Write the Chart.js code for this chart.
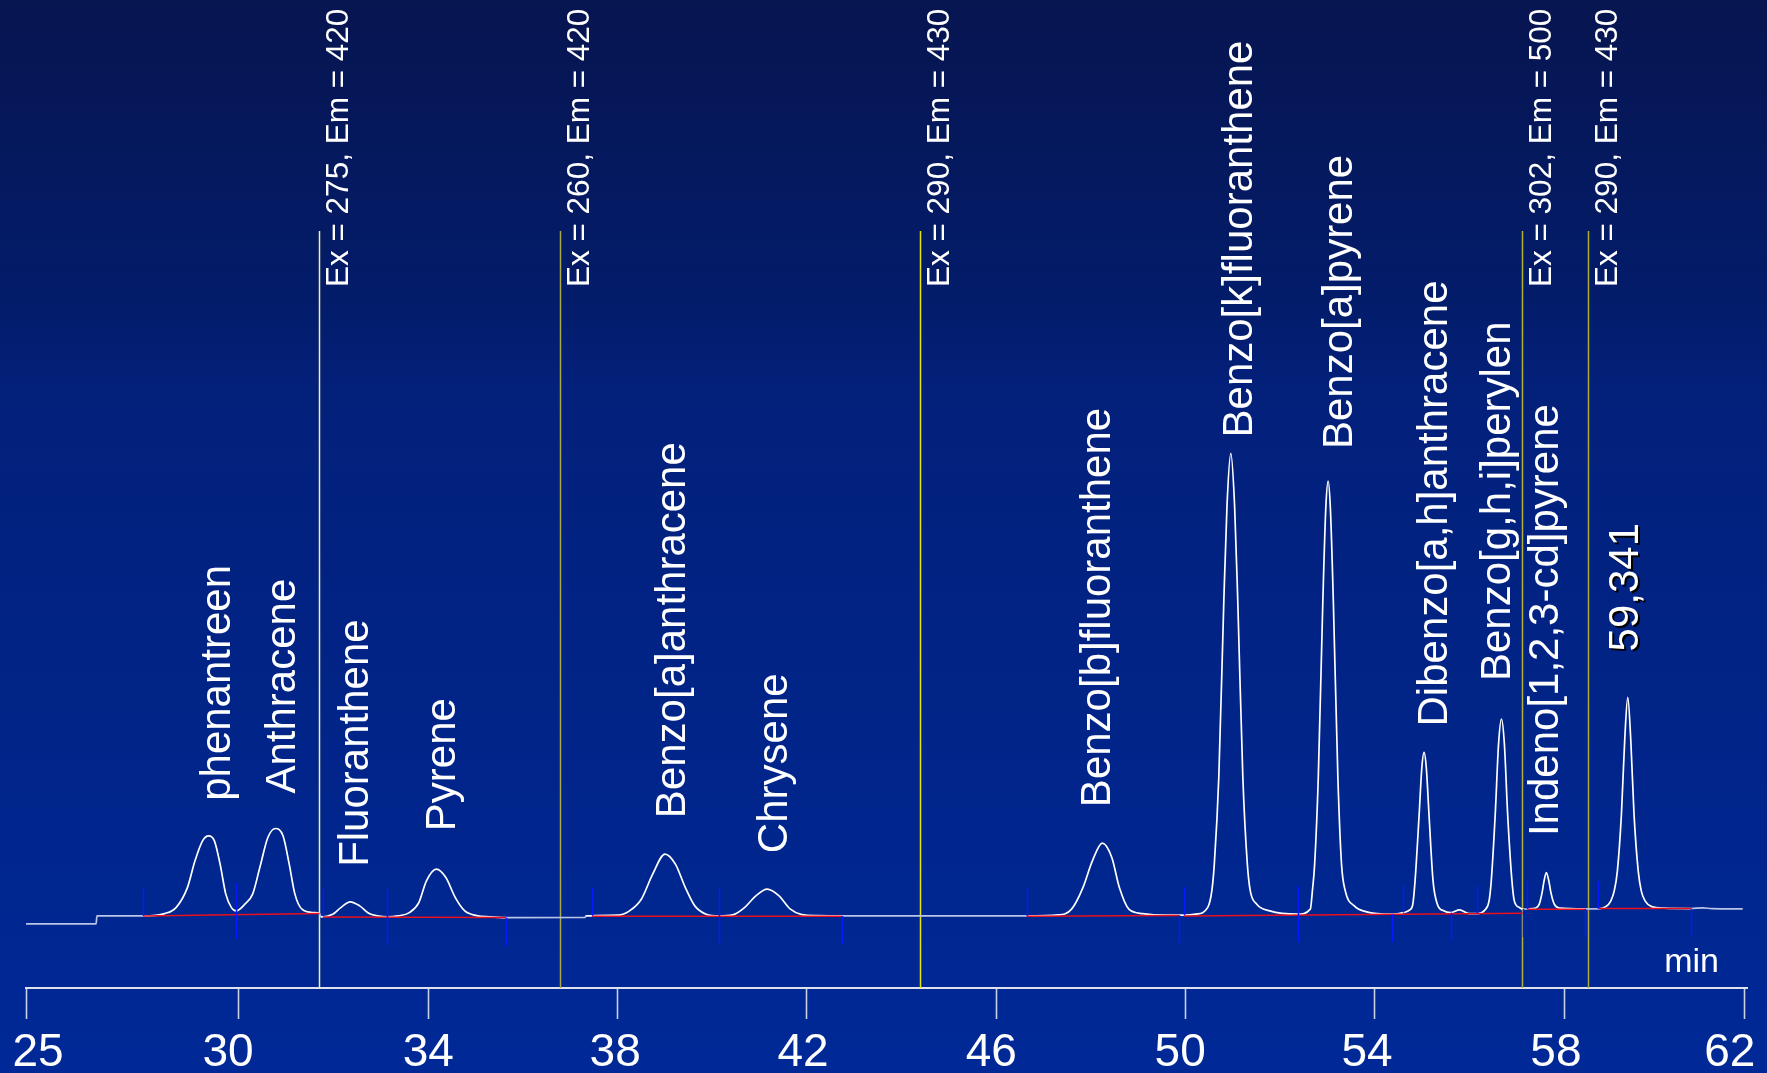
<!DOCTYPE html>
<html>
<head>
<meta charset="utf-8">
<title>HPLC-FLD chromatogram – PAH</title>
<script src="https://cdn.jsdelivr.net/npm/chart.js@4/dist/chart.umd.min.js"></script>
<style>
  html, body { margin: 0; padding: 0; background: #03206f; overflow: hidden; }
  #wrap { position: relative; width: 1767px; height: 1073px; }
</style>
</head>
<body>
<div id="wrap"><canvas id="chrom" width="1767" height="1073"></canvas></div>
<script>
// Fluorescence detector trace: retention time (min) and signal (LU)
const traceTime = [
  25.50, 26.98, 27.00, 27.98, 28.43, 28.67, 28.91, 29.07, 29.23, 29.36, 29.48, 29.60, 29.72, 29.84, 29.94,
  30.13, 30.29, 30.44, 30.61, 30.77, 30.93, 31.06, 31.18, 31.33, 31.58, 31.70, 31.73, 31.98, 32.15, 32.35,
  32.55, 32.75, 32.96, 33.13, 33.36, 33.60, 33.80, 33.96, 34.17, 34.37, 34.57, 34.77, 35.02, 35.30, 35.64,
  37.31, 37.33, 38.01, 38.25, 38.50, 38.74, 39.00, 39.22, 39.43, 39.63, 39.87, 40.14, 40.43, 40.68, 40.92,
  41.16, 41.41, 41.65, 41.89, 42.22, 42.74, 46.64, 47.31, 47.59, 47.83, 48.03, 48.24, 48.44, 48.60, 48.80,
  49.09, 49.57, 49.96, 50.215, 50.464, 50.553, 50.606, 50.701, 50.806, 50.874, 50.954, 51.034, 51.102, 51.208,
  51.303, 51.366, 51.503, 51.778, 52.369, 52.634, 52.678, 52.726, 52.803, 52.898, 52.961, 53.010, 53.058,
  53.121, 53.216, 53.293, 53.373, 53.563, 53.806, 54.372, 54.598, 54.735, 54.799, 54.847, 54.934, 54.989,
  55.037, 55.086, 55.141, 55.227, 55.316, 55.453, 55.601, 55.787, 55.988, 56.151, 56.341, 56.410, 56.457,
  56.541, 56.611, 56.672, 56.734, 56.803, 56.894, 56.945, 57.055, 57.122, 57.241, 57.397, 57.471, 57.534,
  57.566, 57.621, 57.680, 57.714, 57.788, 57.904, 58.438, 58.713, 58.876, 58.981, 59.055, 59.121, 59.207,
  59.277, 59.341, 59.404, 59.473, 59.562, 59.626, 59.710, 59.847, 60.111, 60.677, 60.920, 61.115, 61.770
];
const traceSignal = [
  -1.93, -1.93, -0.20, -0.20, 0.30, 1.60, 5.93, 11.72, 16.05, 17.13, 16.05, 11.07, 4.57, 1.60, 0.89,
  2.40, 4.57, 10.27, 16.76, 18.71, 17.13, 11.07, 4.57, 1.26, 0.52, 0.30, -0.41, 0.17, 1.60, 2.84,
  1.97, 0.30, -0.26, -0.41, -0.20, 0.52, 2.69, 7.39, 9.92, 8.10, 3.77, 0.89, -0.13, -0.41, -0.56,
  -0.50, -0.20, -0.04, 0.89, 3.42, 8.84, 13.17, 11.00, 5.93, 1.97, 0.17, -0.20, 0.02, 1.60, 4.14,
  5.59, 4.14, 1.26, 0.09, -0.13, -0.20, -0.20, 0.02, 1.26, 5.93, 11.72, 15.55, 12.43, 5.93, 1.26,
  0.30, -0.04, -0.04, 0.17, 1.60, 5.22, 11.07, 29.91, 67.66, 88.61, 99.87, 88.61, 67.66, 29.91,
  11.07, 5.22, 2.34, 0.89, 0.17, 1.26, 5.22, 11.07, 29.91, 67.66, 88.00, 93.91, 88.00,
  67.66, 29.91, 11.07, 5.22, 1.97, 0.74, 0.17, 0.52, 1.10, 2.30, 7.39, 21.83, 31.70,
  35.17, 31.70, 21.83, 7.39, 2.40, 0.90, 0.52, 1.10, 0.30, 0.30, 1.30, 3.00, 7.39,
  21.83, 37.00, 42.41, 37.00, 21.83, 7.39, 3.00, 1.60, 1.26, 1.32, 1.50, 2.34, 5.00,
  7.00, 9.18, 7.00, 5.00, 2.34, 1.50, 1.32, 1.32, 1.80, 3.00, 5.22, 9.50, 21.83,
  38.00, 47.09, 38.00, 21.83, 9.50, 5.22, 3.00, 1.80, 1.47, 1.39, 1.54, 1.39, 1.32
];

// Identified compounds (name, retention time in min); an unnamed peak is labelled with its time
const peakNames = [
  "phenantreen", "Anthracene", "Fluoranthene", "Pyrene", "Benzo[a]anthracene", "Chrysene",
  "Benzo[b]fluoranthene", "Benzo[k]fluoranthene", "Benzo[a]pyrene", "Dibenzo[a,h]anthracene",
  "Benzo[g,h,i]perylen", "Indeno[1,2,3-cd]pyrene", null
];
const peakTimes = [29.36, 30.77, 32.35, 34.17, 39.00, 41.16, 48.24, 50.954, 53.010, 55.037, 56.672, 57.621, 59.341];

// Wavelength program switches (min) and the new Ex/Em settings (nm)
const eventTimes = [31.70, 36.79, 44.38, 57.10, 58.50];
const eventLabels = ["Ex = 275, Em = 420", "Ex = 260, Em = 420", "Ex = 290, Em = 430", "Ex = 302, Em = 500", "Ex = 290, Em = 430"];

// Integration baselines (start/end time and level)
const baseStart      = [27.98, 31.78, 37.46, 46.64, 49.96, 57.22, 58.71];
const baseStartLevel = [-0.20, -0.41, -0.25, -0.25, -0.20, 1.26, 1.39];
const baseEnd        = [31.70, 35.64, 42.74, 49.86, 57.12, 58.44, 60.68];
const baseEndLevel   = [0.30, -0.56, -0.30, -0.13, 0.39, 1.26, 1.39];

// Integration event marks: time and kind (peak start, peak end, split)
const markTimes = [27.98, 29.94, 31.78, 33.13, 35.64, 37.46, 40.14, 42.74, 46.64, 49.86, 49.96,
                   52.37, 54.37, 54.60, 55.60, 56.15, 57.12, 57.22, 58.44, 58.71, 60.68];
const markKinds = ["up", "both", "up", "both", "down", "up", "both", "down", "up", "down", "up",
                   "both", "down", "up", "down", "up", "down", "up", "down", "up", "down"];

// Time axis ticks and their captions
const tickValues = [25.5, 30, 34, 38, 42, 46, 50, 54, 58, 61.8];
const tickLabels = ["25", "30", "34", "38", "42", "46", "50", "54", "58", "62"];

// ---- presentation ----
const FONT = "'Liberation Sans', Arial, Helvetica, sans-serif";
const eventColors = ["#f2f2b0", "#a9a94a", "#e6e60c", "#b2b23a", "#abab3a"];
const eventLineTop = 148;                       // signal level where the switch lines begin
const peakLabelNudge = [                        // [dx px right of apex, gap px above apex]
  [21, 35], [19.5, 35], [18, 35], [19, 38], [20, 36], [19.5, 36], [8, 36],
  [21, 16], [23.7, 32], [22.7, 26], [8.3, 38], [11.4, 36.5], [10, 46]
];
const tickLabelShift = [12, -11, 0, -2.5, -4, -5, -5.5, -8, -8.4, -14.4];   // px, caption centre vs tick

function levelAt(t) {
  for (let i = 1; i < traceTime.length; i++) {
    if (traceTime[i] >= t) {
      const t0 = traceTime[i - 1], t1 = traceTime[i];
      const f = t1 === t0 ? 0 : (t - t0) / (t1 - t0);
      return traceSignal[i - 1] + f * (traceSignal[i] - traceSignal[i - 1]);
    }
  }
  return traceSignal[traceSignal.length - 1];
}
function integrated(t) {
  return baseStart.some((s, i) => t >= s && t <= baseEnd[i]);
}

const traceData = traceTime.map((t, i) => ({ x: t, y: traceSignal[i] }));
const baselineData = [];
baseStart.forEach((t, i) => {
  if (i) baselineData.push({ x: (baseEnd[i - 1] + t) / 2, y: null });
  baselineData.push({ x: t, y: baseStartLevel[i] }, { x: baseEnd[i], y: baseEndLevel[i] });
});

const backdrop = {
  id: "backdrop",
  beforeDraw(chart) {
    const { ctx, width, height } = chart;
    const g = ctx.createLinearGradient(0, 0, 0, height);
    g.addColorStop(0, "#071550");
    g.addColorStop(0.28, "#031c6a");
    g.addColorStop(0.36, "#03207a");
    g.addColorStop(0.82, "#00268f");
    g.addColorStop(1, "#002997");
    ctx.save();
    ctx.fillStyle = g;
    ctx.fillRect(0, 0, width, height);
    ctx.restore();
  }
};

const programEvents = {
  id: "programEvents",
  beforeDatasetsDraw(chart) {
    const { ctx, chartArea, scales: { x, y } } = chart;
    const top = y.getPixelForValue(eventLineTop);
    ctx.save();
    eventTimes.forEach((t, i) => {
      const px = Math.round(x.getPixelForValue(t)) + 0.5;
      ctx.strokeStyle = eventColors[i];
      ctx.lineWidth = 1.5;
      ctx.beginPath();
      ctx.moveTo(px, top);
      ctx.lineTo(px, chartArea.bottom);
      ctx.stroke();
      ctx.save();
      ctx.translate(px + 28, top + 56);
      ctx.rotate(-Math.PI / 2);
      ctx.font = "31.5px " + FONT;
      ctx.fillStyle = "#ffffff";
      ctx.textAlign = "left";
      ctx.textBaseline = "alphabetic";
      ctx.fillText(eventLabels[i], 0, 0);
      ctx.restore();
    });
    ctx.restore();
  }
};

const annotations = {
  id: "annotations",
  afterDatasetsDraw(chart) {
    const { ctx, chartArea, scales: { x, y } } = chart;
    ctx.save();
    // integration marks
    ctx.strokeStyle = "#0b18ff";
    ctx.lineWidth = 1.5;
    markTimes.forEach((t, i) => {
      const px = Math.round(x.getPixelForValue(t)) + 0.5;
      const py = y.getPixelForValue(levelAt(t));
      const k = markKinds[i];
      ctx.beginPath();
      ctx.moveTo(px, k === "down" ? py : py - 28);
      ctx.lineTo(px, k === "up" ? py : py + 28);
      ctx.stroke();
    });
    // compound names
    ctx.font = "42px " + FONT;
    ctx.fillStyle = "#ffffff";
    ctx.textAlign = "left";
    ctx.textBaseline = "alphabetic";
    peakTimes.forEach((t, i) => {
      const px = x.getPixelForValue(t);
      const py = y.getPixelForValue(levelAt(t));
      const [dx, gap] = peakLabelNudge[i];
      const named = peakNames[i] !== null;
      const text = named ? peakNames[i] : t.toFixed(3).replace(".", ",");
      ctx.save();
      if (!named) {
        ctx.shadowColor = "#000000";
        ctx.shadowOffsetX = 2.5;
        ctx.shadowOffsetY = 2;
        ctx.shadowBlur = 0;
      }
      ctx.translate(px + dx, py - gap);
      ctx.rotate(-Math.PI / 2);
      ctx.fillText(text, 0, 0);
      ctx.restore();
    });
    // axis unit
    ctx.font = "34px " + FONT;
    ctx.textAlign = "right";
    ctx.fillText("min", chartArea.right - 28, chartArea.bottom - 16);
    ctx.restore();
  },
  afterDraw(chart) {
    // time-axis captions, placed at their ticks
    const { ctx, chartArea, scales: { x } } = chart;
    ctx.save();
    ctx.font = "46px " + FONT;
    ctx.fillStyle = "#ffffff";
    ctx.textAlign = "center";
    ctx.textBaseline = "alphabetic";
    tickValues.forEach((v, i) => {
      ctx.fillText(tickLabels[i], x.getPixelForValue(v) + tickLabelShift[i], chartArea.bottom + 78);
    });
    ctx.restore();
  }
};

new Chart(document.getElementById("chrom"), {
  type: "line",
  data: {
    datasets: [
      {
        label: "baseline",
        data: baselineData,
        borderColor: "#e8101c",
        borderWidth: 1.5,
        pointRadius: 0,
        tension: 0,
        spanGaps: false
      },
      {
        label: "FLD signal",
        data: traceData,
        borderColor: "#ffffff",
        borderWidth: 1.7,
        pointRadius: 0,
        cubicInterpolationMode: "monotone",
        segment: {
          borderColor: c => integrated((c.p0.parsed.x + c.p1.parsed.x) / 2) ? "#ffffff" : "#b9c5e6"
        }
      }
    ]
  },
  options: {
    responsive: false,
    animation: false,
    devicePixelRatio: 1,
    layout: { padding: { left: 26, right: 20, top: 0, bottom: 0 } },
    plugins: { legend: { display: false }, tooltip: { enabled: false } },
    scales: {
      x: {
        type: "linear",
        min: 25.5,
        max: 61.86,
        afterBuildTicks(scale) {
          scale.ticks = tickValues.map(v => ({ value: v }));
        },
        afterFit(scale) {
          scale.height = 85;
          scale.paddingLeft = 0;
          scale.paddingRight = 0;
        },
        ticks: {
          display: false,
          callback: (v, i) => tickLabels[i],
          autoSkip: false,
          maxRotation: 0
        },
        grid: {
          display: true,
          drawOnChartArea: false,
          drawTicks: true,
          tickLength: 31,
          tickColor: "#c9d0e2",
          tickWidth: 1.6
        },
        border: { display: true, color: "#dde2ee", width: 2 }
      },
      y: { display: false, min: -15.8, max: 198 }
    }
  },
  plugins: [backdrop, programEvents, annotations]
});
</script>
</body>
</html>
